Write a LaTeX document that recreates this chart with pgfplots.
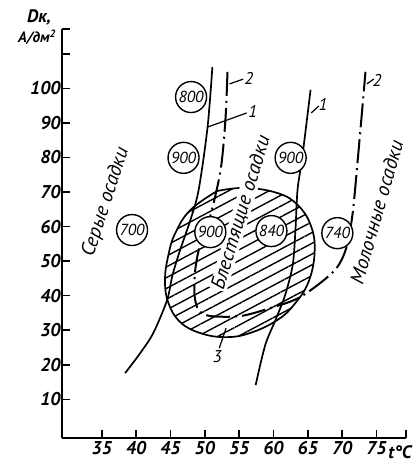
\documentclass[border=0pt]{standalone}
\usepackage{fontspec}
\setmainfont{PT Sans}
\usepackage{pgfplots}
\pgfplotsset{compat=1.18}
\usetikzlibrary{patterns.meta}
\begin{document}
\begin{tikzpicture}
\begin{axis}[
  at={(62pt,25pt)}, anchor=south west,
  scale only axis, width=344pt, height=409pt,
  xmin=29.2, xmax=79.3, ymin=-1.2, ymax=117.2,
  axis lines=left, axis line style={-, line width=1.7pt},
  tick align=inside, major tick length=8pt, tick style={line width=1.5pt, black},
  xtick={35,40,45,50,55,60,65,70,75,79.3},
  xticklabels={35,40,45,50,55,60,65,70,75,{}},
  ytick={10,20,30,40,50,60,70,80,90,100,110,117.2},
  yticklabels={10,20,30,40,50,60,70,80,90,100,{},{}},
  ticklabel style={font=\fontsize{18.5}{18.5}\selectfont\bfseries\itshape},
  yticklabel style={xshift=2pt},
  /pgf/number format/assume math mode=true,
  clip=false,
]
% region 3 (hatched)
\addplot[draw=black, line width=1.7pt, smooth, tension=0.7,
  pattern={Lines[angle=28, distance=9.5pt, line width=1.4pt]}]
  coordinates {(51.8,70.3)(55.9,71.2)(60.6,69.7)(63.5,66.3)(65.4,60.5)(66.0,53.2)(65.2,44.5)(63.2,37.9)(60.6,33.0)(56.6,29.2)(53.0,28.0)(49.3,29.2)(46.4,32.4)(44.7,37.9)(44.2,44.5)(44.7,51.8)(45.7,58.1)(47.9,64.8)(51.8,70.3)};
% line 1 left
\addplot[black, line width=1.7pt, smooth]
  coordinates {(51.1,106.2)(50.4,88.8)(49.1,70.6)(47.9,61.9)(46.4,53.2)(45.3,46.0)(44.5,38.7)(42.5,29.2)(40.6,23.4)(38.4,17.6)};
% line 1 right
\addplot[black, line width=1.7pt, smooth]
  coordinates {(65.4,99.6)(64.2,80.2)(63.5,70.6)(63.2,59.0)(62.8,48.9)(61.7,40.2)(60.3,33.0)(58.8,25.7)(57.4,14.1)};
% line 2 (dash-dot)
\addplot[black, line width=2pt, smooth, dash pattern=on 24pt off 5pt on 2pt off 5pt]
  coordinates {(53.3,104.8)(53.0,90.9)(52.3,76.4)(50.8,63.1)(49.3,54.7)(48.6,47.4)(48.5,40.2)(49.1,35.8)(50.8,34.1)(55.2,34.1)(59.5,36.4)(63.9,39.6)(68.7,46.9)(70.5,53.2)(71.5,63.4)(72.4,82.2)(73.4,104.8)};
% leaders
\addplot[black, line width=1.2pt] coordinates {(53.6,101.3)(55.6,102.7)};
\addplot[black, line width=1.2pt] coordinates {(50.4,88.8)(56.1,92.9)};
\addplot[black, line width=1.2pt] coordinates {(65.5,92.9)(66.6,94.9)};
\addplot[black, line width=1.2pt] coordinates {(73.6,101.3)(74.6,102.7)};
\addplot[black, line width=1.2pt] coordinates {(52.1,24.8)(53.1,30.6)};
% circled values
\addplot[draw=none, mark=none, point meta=explicit symbolic, nodes near coords,
  every node near coord/.style={circle, draw=black, line width=1.4pt, fill=white,
    minimum size=31pt, inner sep=0pt, anchor=center,
    font=\fontsize{16}{16}\selectfont\itshape}]
  coordinates {(48.0,97.5)[800] (46.9,79.9)[900] (39.4,59.0)[700] (50.8,58.4)[900]
    (59.7,58.7)[840] (62.5,79.9)[900] (69.3,58.1)[740]};
% texts
\node[rotate=72, inner sep=0pt, font=\fontsize{20}{20}\selectfont\itshape] at (axis cs:35.6,67.1) {Серые осадки};
\node[rotate=73, fill=white, inner sep=0.5pt, font=\fontsize{20}{20}\selectfont\itshape] at (axis cs:55.3,64.0) {Блестящие осадки};
\node[rotate=74, inner sep=0pt, font=\fontsize{20}{20}\selectfont\itshape] at (axis cs:75.0,64.2) {Молочные осадки};
\node[font=\fontsize{17}{17}\selectfont\itshape] at (axis cs:56.4,103.0) {2};
\node[font=\fontsize{17}{17}\selectfont\itshape] at (axis cs:57.0,93.2) {1};
\node[font=\fontsize{17}{17}\selectfont\itshape] at (axis cs:67.2,95.5) {1};
\node[font=\fontsize{17}{17}\selectfont\itshape] at (axis cs:75.1,102.4) {2};
\node[font=\fontsize{17}{17}\selectfont\itshape] at (axis cs:51.8,22.3) {3};
\end{axis}
\node[font=\fontsize{18}{18}\selectfont\bfseries\itshape] at (39pt,446pt) {Dк,};
\node[font=\fontsize{15}{15}\selectfont\bfseries\itshape] at (37pt,426pt) {A/дм\textsuperscript{2}};
\node[font=\fontsize{18}{18}\selectfont\bfseries\itshape] at (400pt,11pt) {t°C};
\pgfresetboundingbox
\path (0pt,0pt) rectangle (413pt,463pt);
\end{tikzpicture}
\end{document}
